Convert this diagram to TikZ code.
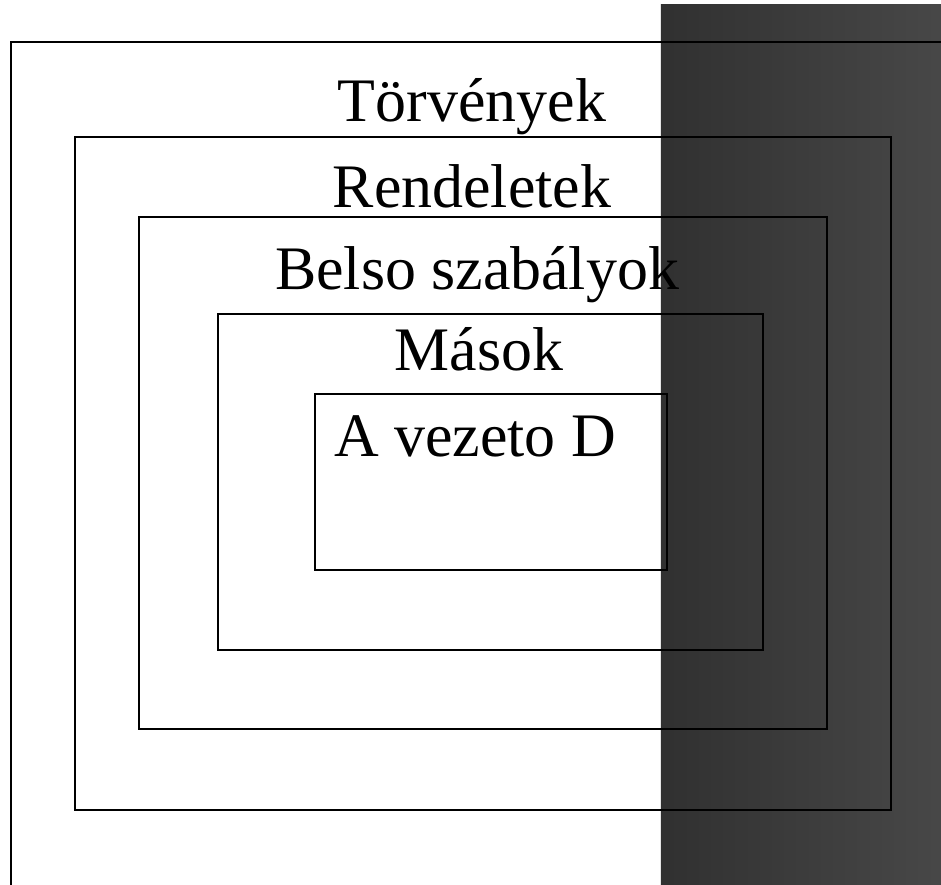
\documentclass[tikz,border=0pt]{standalone}
\usepackage{fontspec}
\setmainfont{Liberation Serif}
\definecolor{shadeleft}{gray}{0.19}
\definecolor{shaderight}{gray}{0.28}

\begin{document}
\begin{tikzpicture}[x=0.01cm,y=-0.01cm,
  box/.style={draw=black,line width=0.6pt},
  levellabel/.style={anchor=base,inner sep=0pt,font=\fontsize{17.6}{20}\selectfont}]
\useasboundingbox (0,0) rectangle (941,885);
\shade[left color=shadeleft,right color=shaderight] (661,5) rectangle (941,885);
% nested levels
\draw[box] (11,885) -- (11,42) -- (941,42);
\draw[box] (75,137) rectangle (891,810);
\draw[box] (139,217) rectangle (827,729);
\draw[box] (218,314) rectangle (763,650);
\draw[box] (315,394) rectangle (667,570);
% labels
\node[levellabel] (torvenyek) at (472,122) {Törvények};
\node[levellabel] (rendeletek) at (472,208) {Rendeletek};
\node[levellabel] (belso) at (477,290) {Belso szabályok};
\node[levellabel] (masok) at (479,371) {Mások};
\node[levellabel] (vezeto) at (475,457) {A vezeto D};
\end{tikzpicture}
\end{document}
